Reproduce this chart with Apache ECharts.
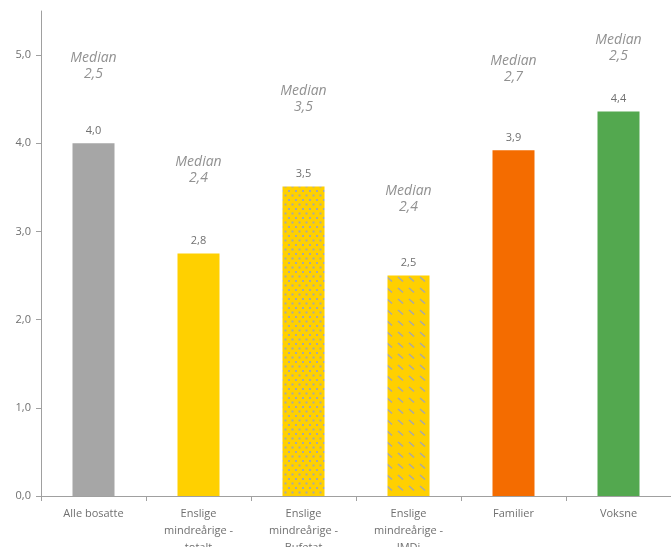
<!DOCTYPE html>
<html>
<head>
<meta charset="utf-8">
<script src="https://cdn.jsdelivr.net/npm/echarts@6/dist/echarts.min.js"></script>
<style>
html,body{margin:0;padding:0;background:#fff;}
#c{width:671px;height:547px;}
</style>
</head>
<body>
<div id="c"></div>
<script>
const categories = ['Alle bosatte', 'Enslige\nmindreårige -\ntotalt', 'Enslige\nmindreårige -\nBufetat', 'Enslige\nmindreårige -\nIMDi', 'Familier', 'Voksne'];
const averageValues = [4.0, 2.75, 3.51, 2.5, 3.92, 4.36];
const medianValues = [2.5, 2.4, 3.5, 2.4, 2.7, 2.5];
const yTicks = [0, 1, 2, 3, 4, 5];

// label lift (px above bar top) for median annotations - layout only
const medianLift = [77, 83, 87, 77, 81, 64];

function makeDots() {
  const c = document.createElement('canvas');
  c.width = 7; c.height = 9;
  const g = c.getContext('2d');
  g.fillStyle = '#ffd000'; g.fillRect(0, 0, 7, 9);
  g.fillStyle = '#a8a8a8';
  g.fillRect(1, 1, 2, 2);
  g.fillRect(4.5, 5.5, 2, 2);
  return c;
}
function makeDashes() {
  const c = document.createElement('canvas');
  c.width = 11; c.height = 11;
  const g = c.getContext('2d');
  g.fillStyle = '#ffd000'; g.fillRect(0, 0, 11, 11);
  g.strokeStyle = '#a8a8a8'; g.lineWidth = 1.6;
  g.beginPath(); g.moveTo(2, 2); g.lineTo(7, 6.5); g.stroke();
  return c;
}

const colors = [
  '#a6a6a6',
  '#ffd000',
  {image: makeDots(), repeat: 'repeat'},
  {image: makeDashes(), repeat: 'repeat'},
  '#f46c00',
  '#53a84f'
];

const fmt = v => (Math.round(v * 10) / 10).toFixed(1).replace('.', ',');

const chart = echarts.init(document.getElementById('c'), null, {renderer: 'canvas'});
chart.setOption({
  animation: false,
  textStyle: {fontFamily: 'Open Sans'},
  grid: {left: 41, right: 0, top: 11, bottom: 51, containLabel: false, outerBoundsMode: 'none'},
  xAxis: {
    type: 'category',
    data: categories,
    axisLine: {lineStyle: {color: '#a0a0a0'}},
    axisTick: {show: true, alignWithLabel: false, length: 5, lineStyle: {color: '#a0a0a0'}},
    axisLabel: {color: '#707070', fontSize: 11, lineHeight: 17, margin: 9, interval: 0}
  },
  yAxis: {
    type: 'value',
    min: 0, max: 5.5, interval: 1,
    axisLine: {show: true, lineStyle: {color: '#a0a0a0'}},
    axisTick: {show: true, length: 5, lineStyle: {color: '#a0a0a0'}},
    splitLine: {show: false},
    axisLabel: {
      color: '#707070', fontSize: 11, margin: 10,
      showMaxLabel: false,
      formatter: v => yTicks.includes(v) ? fmt(v) : ''
    }
  },
  series: [
    {
      type: 'bar',
      barWidth: 42,
      data: averageValues.map((v, i) => ({value: v, itemStyle: {color: colors[i]}})),
      label: {
        show: true, position: 'top', distance: 7,
        color: '#707070', fontSize: 11,
        formatter: p => fmt(p.value)
      }
    },
    {
      type: 'scatter',
      symbolSize: 0,
      silent: true,
      data: averageValues.map((v, i) => ({
        value: [i, v],
        label: {offset: [0, -medianLift[i]]}
      })),
      label: {
        show: true, position: 'inside',
        color: '#767676', fontSize: 14, fontStyle: 'italic', lineHeight: 16,
        formatter: p => 'Median\n' + fmt(medianValues[p.dataIndex])
      }
    }
  ]
});
</script>
</body>
</html>
